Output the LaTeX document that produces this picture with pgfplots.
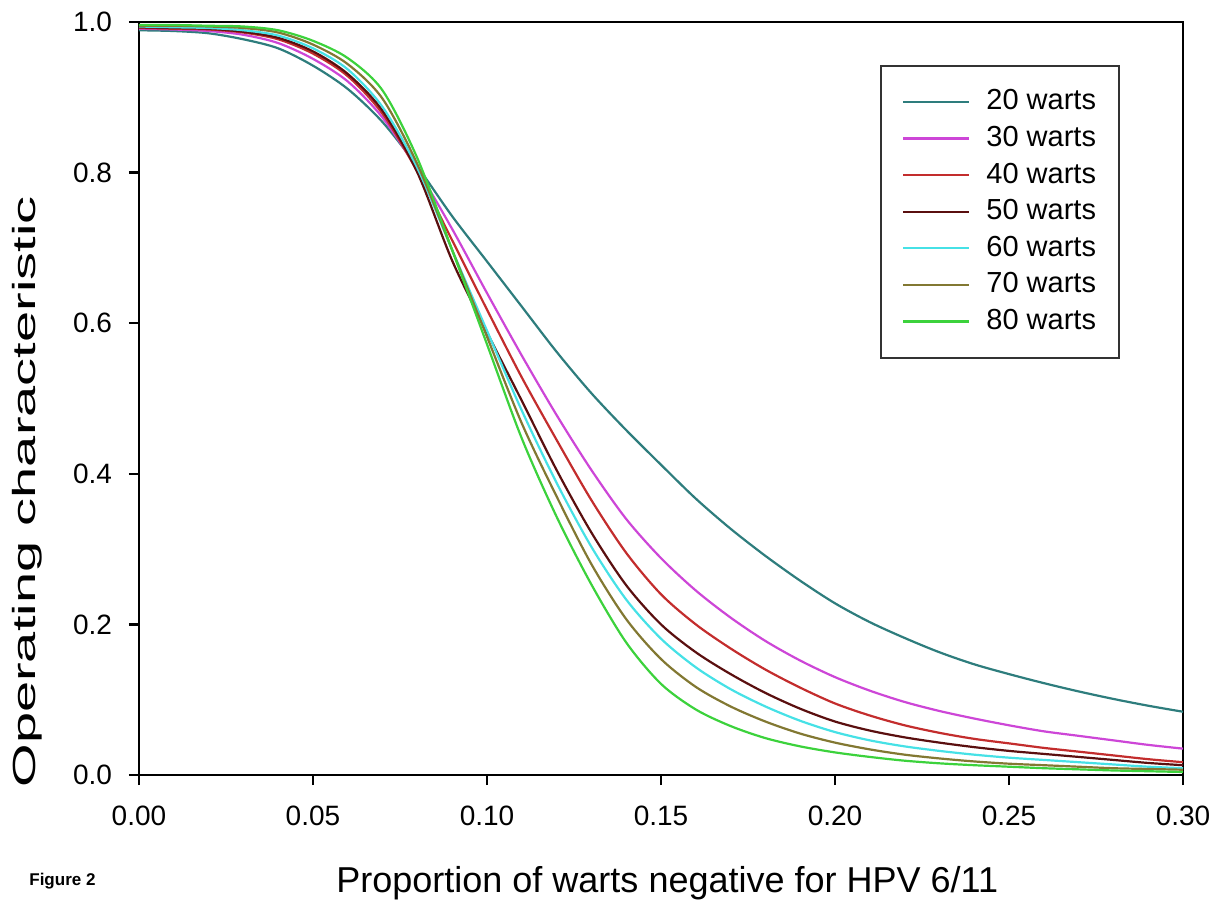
\documentclass[border=0pt]{standalone}
\usepackage{pgfplots}
\usepackage{pgfplotstable}
\pgfplotsset{compat=1.18}
\usepackage{fontspec}
\setmainfont{Liberation Sans}

\definecolor{c20}{RGB}{46,125,125}
\definecolor{c30}{RGB}{205,70,215}
\definecolor{c40}{RGB}{195,45,45}
\definecolor{c50}{RGB}{90,15,15}
\definecolor{c60}{RGB}{70,225,230}
\definecolor{c70}{RGB}{130,120,50}
\definecolor{c80}{RGB}{60,210,60}

% operating characteristic by sample size
\pgfplotstableread{
p     n20   n30   n40   n50   n60   n70   n80
0.00  0.989 0.991 0.992 0.993 0.994 0.995 0.996
0.01  0.988 0.990 0.991 0.992 0.993 0.995 0.996
0.02  0.985 0.988 0.990 0.991 0.992 0.994 0.995
0.03  0.977 0.983 0.986 0.987 0.989 0.992 0.994
0.04  0.965 0.972 0.977 0.979 0.982 0.986 0.989
0.05  0.942 0.951 0.958 0.961 0.965 0.970 0.975
0.06  0.911 0.921 0.928 0.931 0.937 0.944 0.952
0.07  0.867 0.873 0.878 0.882 0.887 0.898 0.909
0.08  0.808 0.804 0.801 0.800 0.806 0.811 0.819
0.09  0.742 0.725 0.710 0.683 0.697 0.697 0.697
0.10  0.682 0.640 0.618 0.588 0.590 0.582 0.572
0.11  0.622 0.557 0.528 0.497 0.484 0.467 0.447
0.12  0.562 0.478 0.445 0.405 0.388 0.370 0.343
0.13  0.507 0.405 0.365 0.322 0.303 0.280 0.253
0.14  0.458 0.340 0.295 0.252 0.233 0.207 0.176
0.15  0.412 0.288 0.240 0.200 0.181 0.154 0.121
0.16  0.367 0.245 0.200 0.163 0.143 0.117 0.087
0.17  0.327 0.209 0.168 0.134 0.114 0.091 0.065
0.18  0.291 0.178 0.140 0.109 0.091 0.071 0.049
0.19  0.258 0.152 0.116 0.088 0.072 0.055 0.038
0.20  0.228 0.130 0.095 0.071 0.057 0.043 0.030
0.21  0.203 0.112 0.079 0.059 0.046 0.034 0.024
0.22  0.182 0.097 0.066 0.050 0.038 0.027 0.019
0.23  0.163 0.085 0.056 0.043 0.032 0.022 0.0155
0.24  0.147 0.075 0.048 0.037 0.027 0.018 0.013
0.25  0.134 0.066 0.042 0.032 0.023 0.015 0.011
0.26  0.122 0.058 0.036 0.028 0.020 0.013 0.009
0.27  0.111 0.052 0.031 0.024 0.017 0.011 0.0075
0.28  0.101 0.046 0.026 0.020 0.014 0.009 0.006
0.29  0.092 0.040 0.021 0.016 0.011 0.008 0.005
0.30  0.084 0.035 0.017 0.013 0.009 0.007 0.004
}\octable

\begin{document}
\begin{tikzpicture}
\begin{axis}[
  scale only axis,
  width=522pt, height=376.5pt,
  xmin=0, xmax=0.30, ymin=0, ymax=1,
  xtick={0,0.05,0.10,0.15,0.20,0.25,0.30},
  ytick={0,0.2,0.4,0.6,0.8,1.0},
  scaled ticks=false,
  tick align=outside,
  xtick pos=left, ytick pos=left,
  major tick length=5pt,
  axis line style={line width=1.2pt},
  every tick/.style={black, line width=1.2pt},
  tick label style={font=\fontsize{14}{16}\selectfont},
  /pgf/number format/assume math mode=true,
  xticklabel style={yshift=-7pt, /pgf/number format/.cd, fixed, fixed zerofill, precision=2},
  yticklabel style={xshift=-5pt, /pgf/number format/.cd, fixed, fixed zerofill, precision=1},
  xlabel={Proportion of warts negative for HPV 6/11},
  ylabel={Operating characteristic},
  xlabel style={font=\fontsize{18}{20}\selectfont, at={(axis description cs:0.506,-0.1554)}, anchor=base},
  ylabel style={font=\fontsize{16}{18}\selectfont, at={(axis description cs:-0.107,0.376)}, anchor=center, xscale=1.75},
  legend style={at={(0.71,0.943)}, anchor=north west, draw=black!80, line width=1pt,
    font=\fontsize{14.5}{16}\selectfont, inner xsep=10.5pt, inner ysep=10pt,
    row sep=2.3pt, column sep=7pt,
    nodes={inner sep=1pt, text height=11pt, text depth=3pt}},
  legend cell align=left,
  legend image code/.code={\draw[#1, line width=1.1pt] (0pt,0pt) -- (33pt,0pt);},
  clip=false,
  every axis plot/.append style={line width=1.1pt, smooth, no markers},
]
\addplot[c20] table[x=p, y=n20] {\octable};
\addplot[c30] table[x=p, y=n30] {\octable};
\addplot[c40] table[x=p, y=n40] {\octable};
\addplot[c50] table[x=p, y=n50] {\octable};
\addplot[c60] table[x=p, y=n60] {\octable};
\addplot[c70] table[x=p, y=n70] {\octable};
\addplot[c80] table[x=p, y=n80] {\octable};
\legend{20 warts, 30 warts, 40 warts, 50 warts, 60 warts, 70 warts, 80 warts}
\node[anchor=base west, inner sep=0pt, font=\bfseries\fontsize{8.5}{10}\selectfont] at (axis description cs:-0.1054,-0.1461) {Figure 2};
\end{axis}
\path (current axis.south west) ++(-69.5pt,-63pt) rectangle ++(610.5pt,450.5pt);
\end{tikzpicture}
\end{document}
